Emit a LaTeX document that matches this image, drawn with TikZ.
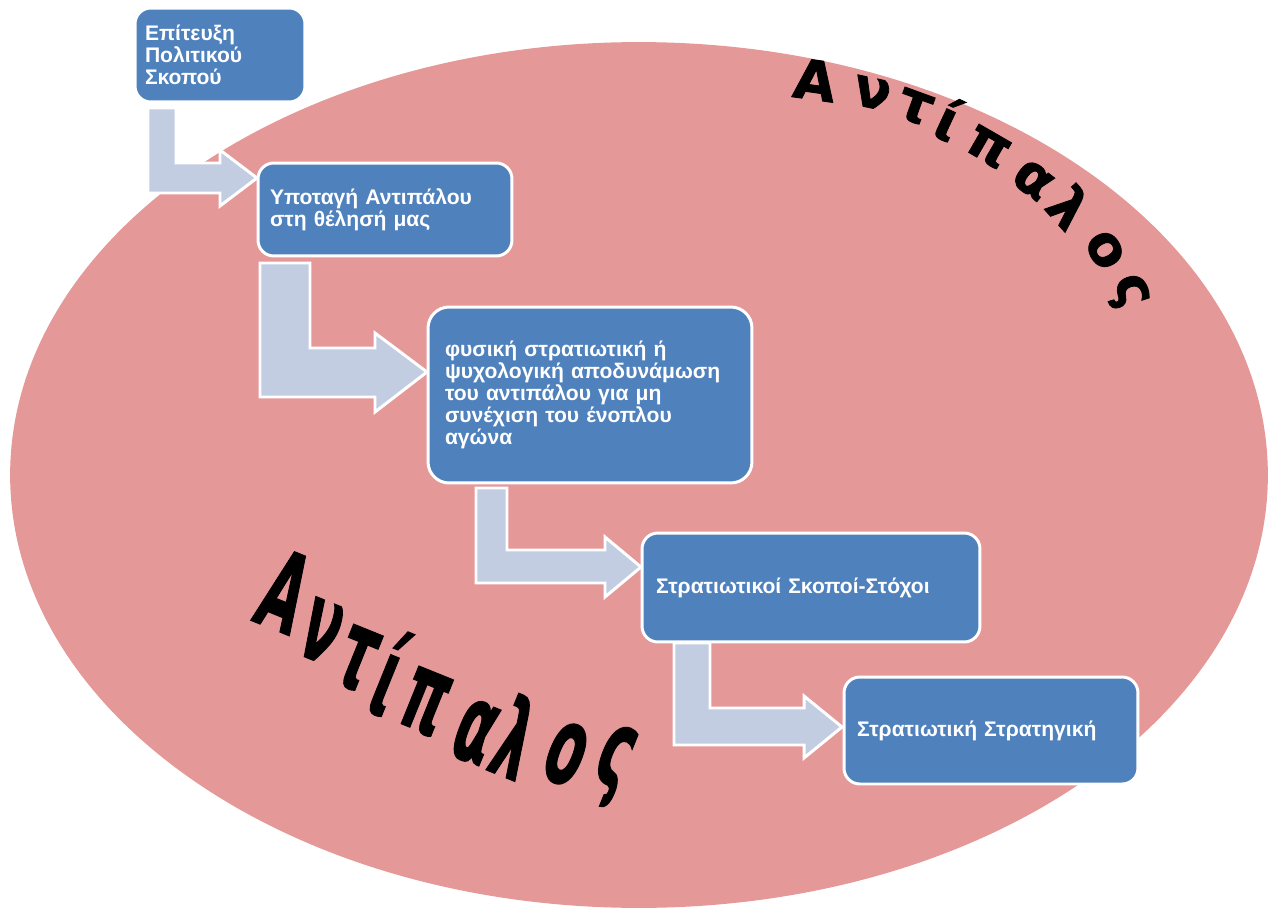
\documentclass[tikz,border=0pt]{standalone}
\usepackage{fontspec}
\setmainfont{Liberation Sans}
\newfontfamily\heavy[FakeBold=1.5]{DejaVu Sans}
\definecolor{ellipsefill}{RGB}{229,152,152}
\definecolor{boxblue}{RGB}{79,129,189}
\definecolor{arrowfill}{RGB}{195,205,226}
\begin{document}
\begin{tikzpicture}[x=0.02cm,y=-0.02cm,
  box/.style={draw=white, line width=1.7pt, fill=boxblue, rounded corners=9pt,
    text=white, font=\bfseries\fontsize{12}{12.5}\selectfont, align=left,
    inner ysep=0pt},
  bent/.style={fill=arrowfill, draw=white, line width=1.7pt, line join=miter},
  topletter/.style={font=\heavy\bfseries\fontsize{31}{31}\selectfont, inner sep=0pt},
  lowletter/.style={font=\heavy\bfseries\fontsize{62}{62}\selectfont, inner sep=0pt, rotate=-22, xscale=0.5},
]
\useasboundingbox (0,0) rectangle (1272,909);
\fill[ellipsefill] (639,475) ellipse [x radius=12.58cm, y radius=8.66cm];

% bent arrows
\draw[bent] (148,108) -- (176,108) -- (176,163) -- (220,163) -- (220,150) -- (257,178)
  -- (220,206) -- (220,193) -- (148,193) -- cycle;
\draw[bent] (260,263) -- (310,263) -- (310,348) -- (375,348) -- (375,333) -- (427,372)
  -- (375,412) -- (375,397) -- (260,397) -- cycle;
\draw[bent] (476,488) -- (507,488) -- (507,550) -- (605,550) -- (605,537) -- (641,567)
  -- (605,597) -- (605,583) -- (476,583) -- cycle;
\draw[bent] (674,643) -- (710,643) -- (710,708) -- (804,708) -- (804,696) -- (842,727)
  -- (804,758) -- (804,745) -- (674,745) -- cycle;

% boxes
\node[box, inner xsep=0.2cm, text width=3.0cm, minimum height=1.88cm] (b1) at (220,55)
  {Επίτευξη\\Πολιτικού\\Σκοπού};
\node[box, inner xsep=0.24cm, text width=4.6cm, minimum height=1.86cm] (b2) at (385,209.5)
  {Υποταγή Αντιπάλου\\στη θέλησή μας};
\node[box, rounded corners=12pt, inner xsep=0.34cm, text width=5.8cm, minimum height=3.52cm] (b3) at (590,395)
  {φυσική στρατιωτική ή\\ψυχολογική αποδυνάμωση\\του αντιπάλου για μη\\συνέχιση του ένοπλου\\αγώνα};
\node[box, inner xsep=0.28cm, text width=6.2cm, minimum height=2.18cm] (b4) at (811,587.5)
  {Στρατιωτικοί Σκοποί-Στόχοι};
\node[box, inner xsep=0.26cm, text width=5.36cm, minimum height=2.14cm] (b5) at (991,730.5)
  {Στρατιωτική Στρατηγική};

% curved title top right
\node[topletter, rotate=-8]  (t1) at (815,80)  {Α};
\node[topletter, rotate=-12] (t2) at (872,93)  {ν};
\node[topletter, rotate=-20] (t3) at (915,107) {τ};
\node[topletter, rotate=-25] (t4) at (949,119) {ί};
\node[topletter, rotate=-30] (t5) at (988,147) {π};
\node[topletter, rotate=-38] (t6) at (1033,180) {α};
\node[topletter, rotate=-48] (t7) at (1070,207) {λ};
\node[topletter, rotate=-60] (t8) at (1105,250) {ο};
\node[topletter, rotate=-72] (t9) at (1127,292) {ς};

% slanted title lower left
\node[lowletter] (l1) at (285,591) {Α};
\node[lowletter] (l2) at (321,631) {ν};
\node[lowletter] (l3) at (357,659) {τ};
\node[lowletter] (l4) at (390,673) {ί};
\node[lowletter] (l5) at (425,702) {π};
\node[lowletter] (l6) at (475,732) {α};
\node[lowletter] (l7) at (516,737) {λ};
\node[lowletter] (l8) at (566,754) {ο};
\node[lowletter] (l9) at (612,766) {ς};
\end{tikzpicture}
\end{document}
